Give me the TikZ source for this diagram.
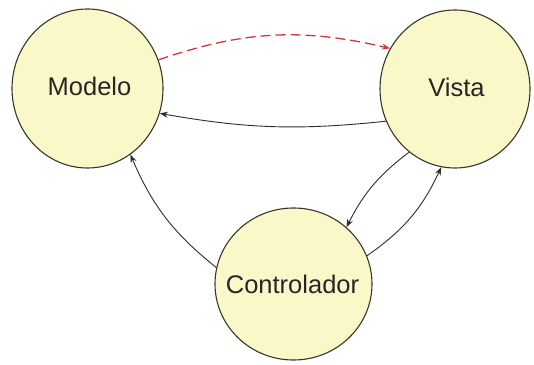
\documentclass[tikz,border=0pt]{standalone}
\usepackage{fontspec}
\setmainfont{Liberation Sans}
\usetikzlibrary{shapes.geometric,arrows.meta}
\definecolor{bubble}{RGB}{250,248,200}
\definecolor{rim}{RGB}{55,55,45}
\definecolor{wire}{RGB}{45,45,45}
\definecolor{notify}{RGB}{212,52,62}
\tikzset{
  state/.style={ellipse, draw=rim, fill=bubble, line width=1.1pt, inner sep=0pt},
  caption/.style={anchor=base, text=black!85, font=\fontsize{25.5}{30}\selectfont},
  flow/.style={draw=wire, line width=0.9pt, -{Stealth[length=8pt,width=6pt]}},
  event/.style={draw=notify, line width=1.3pt, dash pattern=on 10pt off 5pt,
    -{Stealth[length=8pt,width=6pt]}},
}
\begin{document}
\begin{tikzpicture}[x=1pt,y=1pt]
  \useasboundingbox[fill=white] (0,0) rectangle (534,364);

  % the three components
  \node[state, minimum width=151pt, minimum height=159pt] (m) at (87.5,275.5) {};
  \node[state, minimum width=150pt, minimum height=158pt] (v) at (455,275) {};
  \node[state, minimum width=157pt, minimum height=152pt] (c) at (293.5,80) {};

  \node[caption] (mt) at (89.5,268) {Modelo};
  \node[caption] (vt) at (456.5,267) {Vista};
  \node[caption] (ct) at (292.5,71) {Controlador};

  % change notification from the model to the view
  \draw[event] (m.22) to[bend left=16] (v.148);

  % queries and commands
  \draw[flow] (v.205) to[bend left=8] (m.-19);
  \draw[flow] (v.234) to[bend right=13] (c.47);
  \draw[flow] (c.21) to[bend right=15] (v.260);
  \draw[flow] (c.168) to[bend left=14] (m.-57);
\end{tikzpicture}
\end{document}
